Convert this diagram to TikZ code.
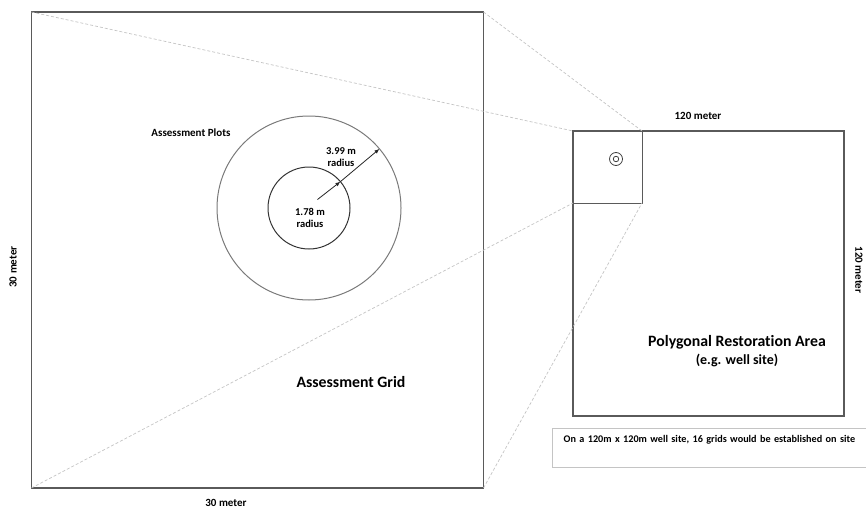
\documentclass[tikz,border=0pt]{standalone}
\usepackage{fontspec}
\setmainfont{Carlito}[Ligatures=NoCommon]
\usepackage{tikz}
\usetikzlibrary{arrows.meta,positioning,calc}
\definecolor{frame}{HTML}{5A5A5A}
\definecolor{ring}{HTML}{7A7A7A}
\definecolor{guide}{HTML}{C4C4C4}
\begin{document}
\begin{tikzpicture}[x=1pt,y=-1pt, sq/.style={draw=frame,line width=1.3pt,inner sep=0,outer sep=0},ringnode/.style={circle,inner sep=0,outer sep=0},lbl/.style={font=\bfseries\fontsize{11}{12}\selectfont,align=center,inner sep=1pt},rad/.style={font=\bfseries\fontsize{10.5}{11.5}\selectfont,align=center,inner sep=1pt},big/.style={font=\bfseries\fontsize{15.8}{18}\selectfont,inner sep=1pt},zoomline/.style={draw=guide,line width=0.7pt,dash pattern=on 3pt off 2pt},arr/.style={-{Latex[length=5pt,width=4pt]},line width=0.8pt,draw=black!85}]
\useasboundingbox (0,0) rectangle (866,511);
\node[sq,minimum width=452,minimum height=476] (grid) at (257.5,250) {};
\node[sq,minimum width=271,minimum height=285] (site) at (708.5,273.5) {};
\node[draw=frame,line width=0.9pt,inner sep=0,outer sep=0,minimum width=69,minimum height=72] (cell) at (607.5,167) {};
\node[ringnode,draw=black!80,line width=1pt,minimum size=82] (inner) at (309,208) {};
\node[ringnode,draw=ring,line width=1pt,minimum size=184] (outer) at (309,208) {};
\node[ringnode,draw=black!75,line width=0.8pt,minimum size=13] (markout) at (616,159) {};
\node[ringnode,draw=black!75,line width=0.8pt,minimum size=5.5] (markin) at (616,159) {};
\coordinate (start) at ($(inner.center)+(-45:12)$);
\draw[zoomline](grid.north west)--(cell.north west);\draw[zoomline](grid.north east)--(cell.north east);\draw[zoomline](grid.south west)--(cell.south west);\draw[zoomline](grid.south east)--(cell.south east);
\draw[arr](start)--(inner.40);\draw[arr](inner.40)--(outer.40);
\node[lbl] (plots) at (191,133) {Assessment Plots};
\node[rad] (rbig) at (341,157) {3.99 m\\radius};
\node[rad] (rsmall) at (310,218) {1.78 m\\radius};
\node[big] (gridname) at (351,382) {Assessment Grid};
\node[lbl] (gridw) at (226,503) {30 meter};
\node[lbl,rotate=90] (gridh) at (13,267) {30 meter};
\node[lbl] (sitew) at (698,116) {120 meter};
\node[lbl,rotate=-90] (siteh) at (859,270) {120 meter};
\node[big] (sitename) at (737,342) {Polygonal Restoration Area};
\node[lbl,font=\bfseries\fontsize{14}{16}\selectfont,below=3pt of sitename] (siteeg) {(e.g. well site)};
\node[draw=guide,line width=0.8pt,anchor=north west,text width=312,align=center,text height=13,text depth=24,inner sep=1pt,font=\bfseries\fontsize{10.2}{12}\selectfont] (note) at (552,428) {On a 120m x 120m well site, 16 grids would be established on site};
\end{tikzpicture}
\end{document}
